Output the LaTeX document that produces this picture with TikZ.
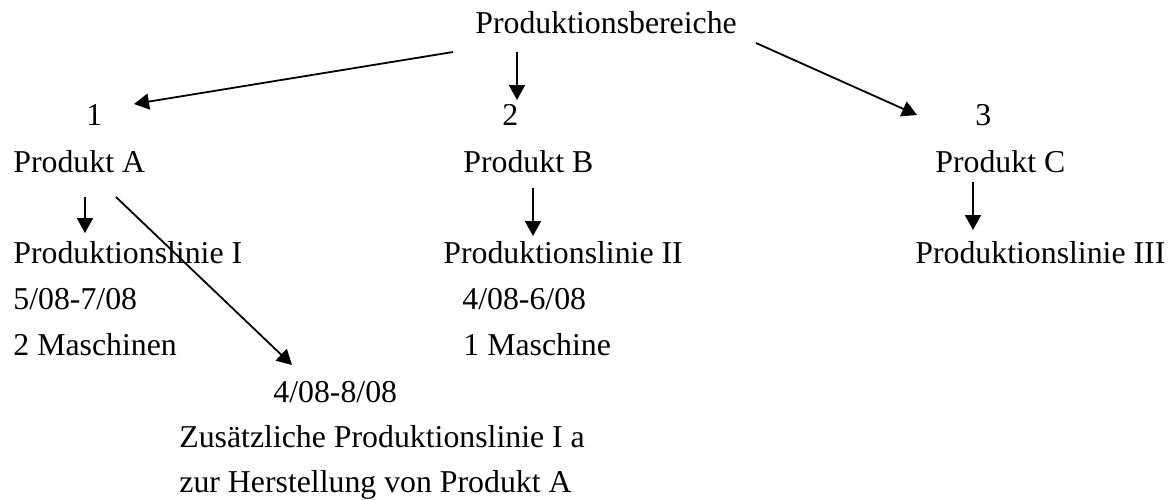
\documentclass[tikz,border=0pt]{standalone}
\usepackage{fontspec}
\setmainfont{Liberation Serif}
\usetikzlibrary{arrows.meta}

\begin{document}
\begin{tikzpicture}[x=0.5pt, y=-0.5pt,  every node/.style={anchor=base west, inner sep=0pt, font=\fontsize{15.9pt}{19pt}\selectfont},  pfeil/.style={-{Triangle[length=7.5pt, width=8pt]}, line width=0.9pt}]
  \useasboundingbox (0,0) rectangle (1176,499);

  \node (top) at (475,33) {Produktionsbereiche};

  \node (one)   at (86,125)  {1};
  \node (two)   at (502,125) {2};
  \node (three) at (975,125) {3};

  \node (prodA) at (13,172)  {Produkt A};
  \node (prodB) at (463,172) {Produkt B};
  \node (prodC) at (935,172) {Produkt C};

  \node (linI)   at (13,263)  {Produktionslinie I};
  \node (linII)  at (443,263) {Produktionslinie II};
  \node (linIII) at (915,263) {Produktionslinie III};

  \node (dateI)  at (13,309)  {5/08-7/08};
  \node (dateII) at (462,309) {4/08-6/08};
  \node (machI)  at (13,355)  {2 Maschinen};
  \node (machII) at (463,355) {1 Maschine};

  \node (dateIa) at (273,402) {4/08-8/08};
  \node (linIa)  at (179,447) {Zusätzliche Produktionslinie I a};
  \node (noteIa) at (179,492) {zur Herstellung von Produkt A};

  % Bereiche -> Produkte
  \draw[pfeil] ([shift={(-22,19)}]top.base west) -- ([shift={(48,-21)}]one.base west);
  \draw[pfeil] ([shift={(42,19)}]top.base west) -- ([shift={(15,-25)}]two.base west);
  \draw[pfeil] ([shift={(281,10)}]top.base west) -- ([shift={(-58,-10)}]three.base west);

  % Produkte -> Linien
  \draw[pfeil] ([shift={(72,25)}]prodA.base west) -- ([shift={(72,-30)}]linI.base west);
  \draw[pfeil] ([shift={(103,25)}]prodA.base west) -- ([shift={(19,-37)}]dateIa.base west);
  \draw[pfeil] ([shift={(70,16)}]prodB.base west) -- ([shift={(90,-27)}]linII.base west);
  \draw[pfeil] ([shift={(38,10)}]prodC.base west) -- ([shift={(58,-33)}]linIII.base west);
\end{tikzpicture}
\end{document}
